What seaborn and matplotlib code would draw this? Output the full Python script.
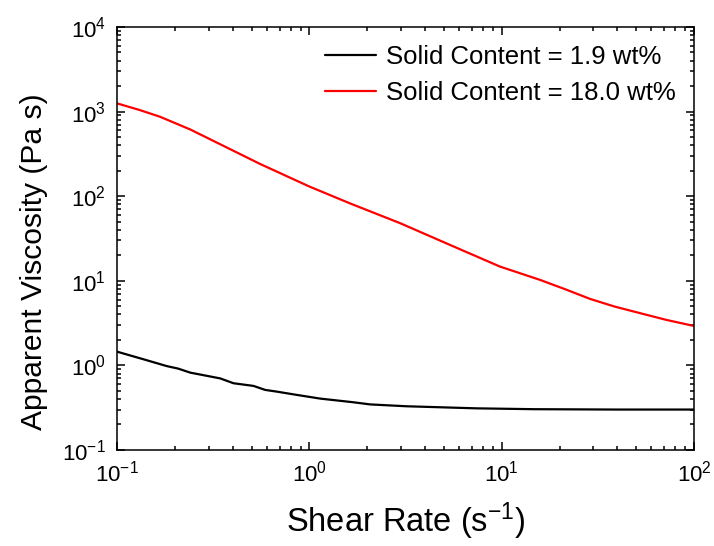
import numpy as np
import pandas as pd
import matplotlib
matplotlib.use("Agg")
import matplotlib.pyplot as plt
import seaborn as sns
from matplotlib.ticker import LogLocator, NullFormatter

# Flow curves: apparent viscosity vs shear rate
shear_low = [0.1, 0.137, 0.181, 0.208, 0.24, 0.344, 0.403, 0.512, 0.589, 0.676,
             0.86, 1.14, 1.69, 2.07, 3.2, 7.4, 14.6, 39.8, 100]
visc_low = [1.45, 1.18, 0.98, 0.914, 0.82, 0.70, 0.614, 0.571, 0.512, 0.489,
            0.447, 0.404, 0.366, 0.345, 0.328, 0.31, 0.303, 0.30, 0.30]

shear_high = [0.1, 0.13, 0.167, 0.24, 0.305, 0.555, 1.0, 1.63, 2.96, 5.39,
              9.8, 15.9, 21.5, 28.8, 38.7, 52.6, 72, 100]
visc_high = [1250, 1050, 870, 615, 470, 240, 130, 82, 48, 26.5,
             14.7, 10.2, 7.9, 6.1, 4.95, 4.13, 3.44, 2.92]

labels = ["Solid Content = 1.9 wt%", "Solid Content = 18.0 wt%"]
colors = ["#000000", "#ff0000"]

df = pd.concat([
    pd.DataFrame({"shear": shear_low, "visc": visc_low, "series": labels[0]}),
    pd.DataFrame({"shear": shear_high, "visc": visc_high, "series": labels[1]}),
], ignore_index=True)

sns.set_style("ticks")
plt.rcParams["font.family"] = ["Liberation Sans", "DejaVu Sans"]
plt.rcParams["mathtext.fontset"] = "custom"
plt.rcParams["mathtext.rm"] = "Liberation Sans"
plt.rcParams["mathtext.it"] = "Liberation Sans:italic"
for key in ["text.color", "axes.labelcolor", "xtick.color", "ytick.color", "axes.edgecolor"]:
    plt.rcParams[key] = "black"

fig = plt.figure(figsize=(7.14, 5.46), dpi=100)
ax = fig.add_axes([0.164, 0.176, 0.808, 0.7745])

sns.lineplot(data=df, x="shear", y="visc", hue="series", palette=colors,
             hue_order=labels, linewidth=1.6, ax=ax, sort=False, estimator=None)

ax.set_xscale("log")
ax.set_yscale("log")
ax.set_xlim(0.1, 100)
ax.set_ylim(0.1, 1e4)

ax.xaxis.set_major_locator(LogLocator(base=10, numticks=10))
ax.yaxis.set_major_locator(LogLocator(base=10, numticks=10))
ax.xaxis.set_minor_locator(LogLocator(base=10, subs=np.arange(2, 10), numticks=20))
ax.yaxis.set_minor_locator(LogLocator(base=10, subs=np.arange(2, 10), numticks=20))
ax.xaxis.set_minor_formatter(NullFormatter())
ax.yaxis.set_minor_formatter(NullFormatter())

ax.tick_params(which="both", direction="in", top=True, right=True, width=1.1, color="black")
ax.tick_params(which="major", length=6, labelsize=16, pad=8)
ax.tick_params(which="minor", length=3)
for s in ax.spines.values():
    s.set_linewidth(1.1)
    s.set_color("black")

ax.set_xlabel("Shear Rate (s$^{-1}$)", fontsize=23.5, labelpad=10)
ax.set_ylabel("Apparent Viscosity (Pa s)", fontsize=21.6, labelpad=10)
ax.yaxis.set_label_coords(-0.12, 0.444)

leg = ax.legend(loc="upper right", frameon=False, fontsize=18.5, handlelength=2.0,
                handletextpad=0.4, borderaxespad=0.3, labelspacing=0.45)
for line in leg.get_lines():
    line.set_linewidth(1.6)

fig.savefig("out.png", dpi=100)
